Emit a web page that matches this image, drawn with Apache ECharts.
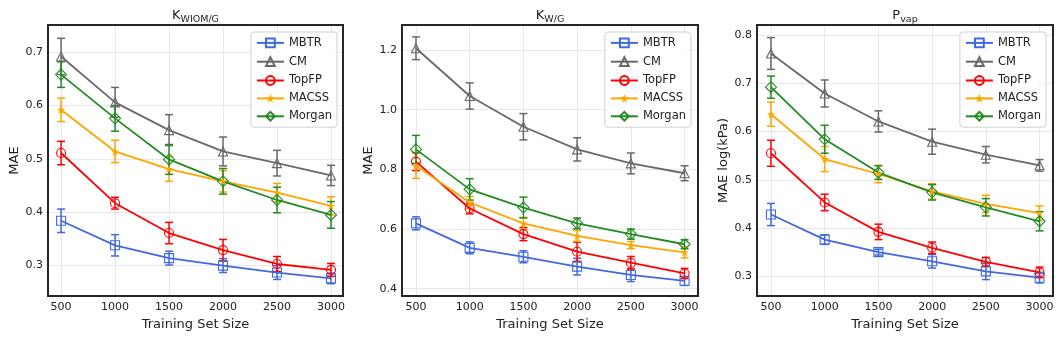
<!DOCTYPE html>
<html>
<head>
<meta charset="utf-8">
<script src="https://cdn.jsdelivr.net/npm/echarts@6/dist/echarts.min.js"></script>
<style>
  html, body { margin: 0; padding: 0; background: #fff; }
  #chart { width: 1060px; height: 339px; }
</style>
</head>
<body>
<div id="chart"></div>
<script>
var sizes = [500, 1000, 1500, 2000, 2500, 3000];
var methods = ['MBTR', 'CM', 'TopFP', 'MACSS', 'Morgan'];

// panel 1: K_WIOM/G
var kwiomMean = {
  MBTR:   [0.384, 0.338, 0.314, 0.300, 0.287, 0.276],
  CM:     [0.692, 0.606, 0.554, 0.514, 0.492, 0.469],
  TopFP:  [0.511, 0.417, 0.361, 0.329, 0.303, 0.292],
  MACSS:  [0.592, 0.514, 0.481, 0.458, 0.437, 0.412],
  Morgan: [0.658, 0.576, 0.499, 0.458, 0.423, 0.395]
};
var kwiomErr = {
  MBTR:   [0.022, 0.020, 0.013, 0.013, 0.013, 0.010],
  CM:     [0.034, 0.028, 0.029, 0.027, 0.024, 0.019],
  TopFP:  [0.022, 0.011, 0.020, 0.020, 0.014, 0.012],
  MACSS:  [0.022, 0.021, 0.023, 0.020, 0.017, 0.017],
  Morgan: [0.024, 0.024, 0.028, 0.024, 0.024, 0.025]
};

// panel 2: K_W/G
var kwgMean = {
  MBTR:   [0.619, 0.537, 0.507, 0.474, 0.446, 0.426],
  CM:     [1.206, 1.046, 0.943, 0.867, 0.820, 0.787],
  TopFP:  [0.826, 0.669, 0.583, 0.524, 0.487, 0.451],
  MACSS:  [0.812, 0.689, 0.619, 0.577, 0.546, 0.522],
  Morgan: [0.867, 0.733, 0.672, 0.619, 0.583, 0.549]
};
var kwgErr = {
  MBTR:   [0.022, 0.020, 0.020, 0.028, 0.022, 0.015],
  CM:     [0.038, 0.044, 0.044, 0.039, 0.035, 0.025],
  TopFP:  [0.030, 0.018, 0.022, 0.032, 0.021, 0.017],
  MACSS:  [0.042, 0.020, 0.020, 0.018, 0.012, 0.019],
  Morgan: [0.047, 0.036, 0.035, 0.018, 0.017, 0.015]
};

// panel 3: P_vap
var pvapMean = {
  MBTR:   [0.428, 0.376, 0.350, 0.331, 0.310, 0.297],
  CM:     [0.762, 0.679, 0.621, 0.579, 0.552, 0.530],
  TopFP:  [0.555, 0.453, 0.392, 0.359, 0.330, 0.308],
  MACSS:  [0.636, 0.543, 0.512, 0.476, 0.450, 0.431],
  Morgan: [0.692, 0.584, 0.515, 0.474, 0.443, 0.414]
};
var pvapErr = {
  MBTR:   [0.023, 0.010, 0.006, 0.014, 0.017, 0.011],
  CM:     [0.033, 0.028, 0.022, 0.026, 0.017, 0.012],
  TopFP:  [0.027, 0.017, 0.016, 0.012, 0.009, 0.011],
  MACSS:  [0.025, 0.026, 0.018, 0.016, 0.018, 0.015],
  Morgan: [0.023, 0.029, 0.014, 0.016, 0.018, 0.020]
};

var colors = { MBTR: '#4169e1', CM: '#696969', TopFP: '#ff0000', MACSS: '#ffa500', Morgan: '#228b22' };
var star = 'path://M0,-10L2.35,-3.24L9.51,-3.09L3.80,1.24L5.88,8.09L0,4L-5.88,8.09L-3.80,1.24L-9.51,-3.09L-2.35,-3.24Z';
var symbols = { MBTR: 'rect', CM: 'triangle', TopFP: 'circle', MACSS: star, Morgan: 'diamond' };

var panels = [
  { title: 'K{s|WIOM/G}', yName: 'MAE', mean: kwiomMean, err: kwiomErr, ymin: 0.243, ymax: 0.751,
    left: 48, right: 717, xmin: 379, xmax: 3111 },
  { title: 'K{s|W/G}', yName: 'MAE', mean: kwgMean, err: kwgErr, ymin: 0.3755, ymax: 1.284,
    left: 402, right: 362, xmin: 370, xmax: 3125 },
  { title: 'P{s|vap}', yName: 'MAE log(kPa)', mean: pvapMean, err: pvapErr, ymin: 0.259, ymax: 0.821,
    left: 757, right: 7, xmin: 370, xmax: 3125 }
];

var frame = '#262626';
var gridLine = '#e8e8e8';
var font = 'DejaVu Sans';

var grids = [], xAxes = [], yAxes = [], series = [], errSeries = [], legends = [], graphics = [];

function fmt(v) { return v.toFixed(1); }

panels.forEach(function(p, i) {
  grids.push({ left: p.left, right: p.right, top: 25, bottom: 43, show: true, z: 5,
    borderColor: frame, borderWidth: 2, backgroundColor: 'transparent' });
  xAxes.push({
    type: 'value', gridIndex: i, min: p.xmin, max: p.xmax,
    name: 'Training Set Size', nameLocation: 'middle', nameGap: 21,
    nameTextStyle: { fontFamily: font, fontSize: 13, color: '#222' },
    axisLine: { show: false }, axisTick: { show: false },
    axisLabel: { fontFamily: font, fontSize: 11, color: '#222', margin: 6,
      showMinLabel: false, showMaxLabel: false,
      formatter: function(v) { return v % 500 === 0 ? String(v) : ''; } },
    splitLine: { show: true, showMinLine: false, showMaxLine: false, lineStyle: { color: gridLine, width: 1 } }
  });
  yAxes.push({
    type: 'value', gridIndex: i, min: p.ymin, max: p.ymax,
    name: p.yName, nameLocation: 'middle', nameGap: 27,
    nameTextStyle: { fontFamily: font, fontSize: 13, color: '#222' },
    axisLine: { show: false }, axisTick: { show: false },
    axisLabel: { fontFamily: font, fontSize: 11, color: '#222', margin: 5,
      showMinLabel: false, showMaxLabel: false, formatter: fmt },
    splitLine: { show: true, showMinLine: false, showMaxLine: false, lineStyle: { color: gridLine, width: 1 } }
  });

  methods.forEach(function(m) {
    var c = colors[m];
    var isStar = m === 'MACSS';
    series.push({
      name: m, type: 'line', xAxisIndex: i, yAxisIndex: i,
      data: sizes.map(function(s, k) { return [s, p.mean[m][k]]; }),
      symbol: symbols[m], symbolSize: isStar ? 8 : (m === 'Morgan' ? 11 : 9),
      showAllSymbol: true,
      lineStyle: { color: c, width: 1.8 },
      itemStyle: isStar ? { color: c, borderWidth: 0 } : { color: 'none', borderColor: c, borderWidth: 1.1 },
      z: 3
    });
    errSeries.push({
      name: m, type: 'custom', xAxisIndex: i, yAxisIndex: i,
      data: sizes.map(function(s, k) { return [s, p.mean[m][k], p.err[m][k]]; }),
      renderItem: function(params, api) {
        var x = api.value(0), y = api.value(1), e = api.value(2);
        var lo = api.coord([x, y - e]);
        var hi = api.coord([x, y + e]);
        var w = 4;
        var st = { stroke: c, lineWidth: 1.5, fill: null };
        return { type: 'group', children: [
          { type: 'line', shape: { x1: lo[0], y1: lo[1], x2: hi[0], y2: hi[1] }, style: st },
          { type: 'line', shape: { x1: lo[0] - w, y1: lo[1], x2: lo[0] + w, y2: lo[1] }, style: st },
          { type: 'line', shape: { x1: hi[0] - w, y1: hi[1], x2: hi[0] + w, y2: hi[1] }, style: st }
        ] };
      },
      z: 2
    });
  });

  legends.push({
    data: methods, orient: 'vertical', right: i === 2 ? 14 : (i === 1 ? 369 : 723), top: 32,
    itemWidth: 27, itemHeight: 11, itemGap: 5,
    padding: [4, 5, 4, 5],
    borderColor: '#d0d0d0', borderWidth: 1, borderRadius: 3,
    backgroundColor: 'rgba(255,255,255,0.85)',
    textStyle: { fontFamily: font, fontSize: 11.5, color: '#222' },
    selectedMode: false
  });

  var cx = p.left + (1060 - p.left - p.right) / 2;
  graphics.push({
    type: 'text', x: cx, y: 16,
    style: {
      text: p.title, fill: '#222', align: 'center', verticalAlign: 'middle',
      font: '13px ' + font,
      rich: { s: { fontFamily: font, fontSize: 9.5, padding: [7, 0, 0, 0], fill: '#222' } }
    }
  });
});

var chart = echarts.init(document.getElementById('chart'), null, { renderer: 'canvas' });
chart.setOption({
  animation: false,
  textStyle: { fontFamily: font },
  grid: grids,
  xAxis: xAxes,
  yAxis: yAxes,
  legend: legends,
  graphic: graphics,
  series: series.concat(errSeries)
});
window.addEventListener('resize', function() { chart.resize(); });
</script>
</body>
</html>
